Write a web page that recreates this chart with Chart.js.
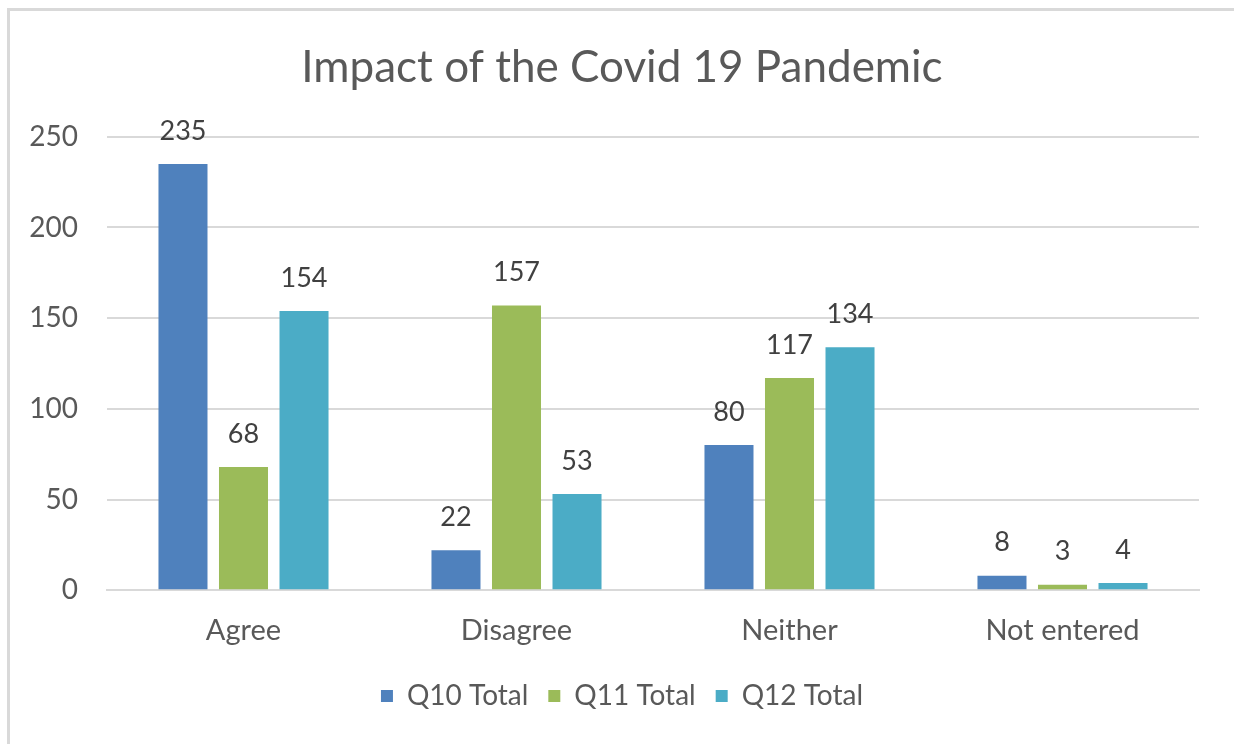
<!DOCTYPE html>
<html>
<head>
<meta charset="utf-8">
<script src="https://cdn.jsdelivr.net/npm/chart.js@4"></script>
<style>
  html, body { margin: 0; padding: 0; background: #fff; overflow: hidden; }
  #frame {
    position: absolute; left: 7px; top: 8px; width: 1400px; height: 900px;
    border: 3px solid #d9d9d9; box-sizing: border-box;
  }
  #wrap { position: absolute; left: 0; top: 0; width: 1234px; height: 744px; }
</style>
</head>
<body>
<div id="frame"></div>
<div id="wrap"><canvas id="covidChart"></canvas></div>
<script>
var categories = ["Agree", "Disagree", "Neither", "Not entered"];
var q10Values = [235, 22, 80, 8];
var q11Values = [68, 157, 117, 3];
var q12Values = [154, 53, 134, 4];
var yTicks = [0, 50, 100, 150, 200, 250];

var FONT = "Lato";

// draws the number above each bar
var valueLabels = {
  id: "valueLabels",
  afterDatasetsDraw: function (chart) {
    var ctx = chart.ctx;
    ctx.save();
    ctx.font = "27px " + FONT;
    ctx.fillStyle = "#404040";
    ctx.textAlign = "center";
    ctx.textBaseline = "middle";
    chart.data.datasets.forEach(function (ds, i) {
      var meta = chart.getDatasetMeta(i);
      meta.data.forEach(function (bar, j) {
        ctx.fillText(ds.data[j], bar.x, bar.y - 33);
      });
    });
    ctx.restore();
  },
};

// y labels sit in the left padding, so widen the label clip area
var widenYAxis = {
  id: "widenYAxis",
  afterLayout: function (chart) {
    chart.scales.y.left = 0;
  },
};

var ctx = document.getElementById("covidChart").getContext("2d");
new Chart(ctx, {
  type: "bar",
  data: {
    labels: categories,
    datasets: [
      { label: "Q10 Total", data: q10Values, backgroundColor: "#4f81bd" },
      { label: "Q11 Total", data: q11Values, backgroundColor: "#9bbb59" },
      { label: "Q12 Total", data: q12Values, backgroundColor: "#4bacc6" },
    ],
  },
  options: {
    responsive: true,
    maintainAspectRatio: false,
    animation: false,
    layout: { padding: { left: 45, right: 35, top: 0, bottom: 24 } },
    datasets: {
      bar: { categoryPercentage: 0.665, barPercentage: 0.81 },
    },
    plugins: {
      title: {
        display: true,
        text: "Impact of the Covid 19 Pandemic",
        color: "#595959",
        font: { family: FONT, size: 44, weight: "normal" },
        padding: { top: 41, bottom: 43 },
      },
      legend: {
        position: "bottom",
        labels: {
          color: "#595959",
          font: { family: FONT, size: 28 },
          boxWidth: 12,
          boxHeight: 12,
          padding: 20,
        },
      },
      tooltip: { enabled: false },
    },
    scales: {
      x: {
        grid: { display: false },
        border: { color: "#d9d9d9", width: 2 },
        ticks: { color: "#595959", font: { family: FONT, size: 29 }, padding: 15 },
        afterFit: function (axis) { axis.height = axis.height - 1; },
      },
      y: {
        min: 0,
        max: 250,
        afterBuildTicks: function (axis) {
          axis.ticks = yTicks.map(function (v) { return { value: v }; });
        },
        afterFit: function (axis) { axis.width = 62; },
        grid: { color: "#d9d9d9", lineWidth: 2, drawTicks: false },
        border: { display: false },
        ticks: { color: "#595959", font: { family: FONT, size: 28 }, padding: 29 },
      },
    },
  },
  plugins: [valueLabels, widenYAxis],
});
</script>
</body>
</html>
